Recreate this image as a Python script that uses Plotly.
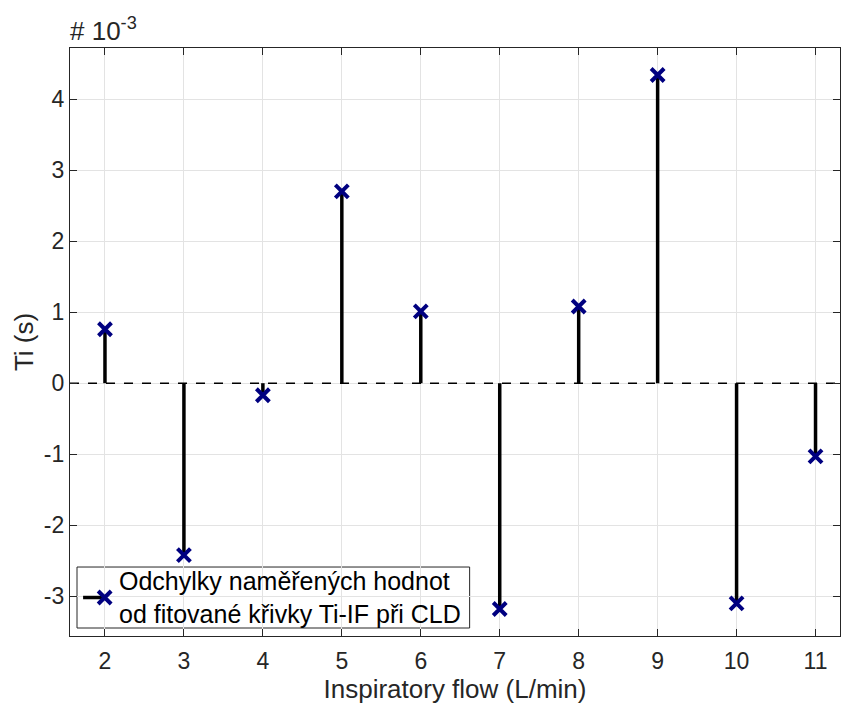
import plotly.graph_objects as go

flow = [2, 3, 4, 5, 6, 7, 8, 9, 10, 11]
deviation_e3 = [0.76, -2.42, -0.17, 2.70, 1.01, -3.18, 1.08, 4.34, -3.10, -1.03]
legend_text = "Odchylky naměřených hodnot<br>od fitované křivky Ti-IF při CLD"
x_ticks = [2, 3, 4, 5, 6, 7, 8, 9, 10, 11]
y_ticks = [-3, -2, -1, 0, 1, 2, 3, 4]

xr = [1.557, 11.31]
yr = [-3.56, 4.72]

stem_x, stem_y = [], []
for xv, yv in zip(flow, deviation_e3):
    stem_x += [xv, xv, None]
    stem_y += [0, yv, None]

font = "Liberation Sans, Arial, sans-serif"
navy = "#000080"
mk = dict(symbol="x-thin", size=13, color=navy, line=dict(color=navy, width=4))

fig = go.Figure()
fig.add_trace(go.Scatter(x=xr, y=[0, 0], mode="lines",
                         line=dict(color="black", width=1.5, dash="dash"),
                         showlegend=False, hoverinfo="skip"))
fig.add_trace(go.Scatter(x=stem_x, y=stem_y, mode="lines",
                         line=dict(color="black", width=3.5), showlegend=False))
fig.add_trace(go.Scatter(x=flow, y=deviation_e3, mode="markers",
                         marker=mk, showlegend=False))

# legend box (manual, on an overlay axis spanning the plot area 0..1)
lg_x0, lg_x1, lg_y0, lg_y1 = 0.0091, 0.519, 0.0136, 0.1173
lg_cy = (lg_y0 + lg_y1) / 2
fig.add_shape(type="rect", xref="paper", yref="paper", x0=lg_x0, x1=lg_x1, y0=lg_y0, y1=lg_y1,
              line=dict(color="#262626", width=1), fillcolor="white", layer="between")
fig.add_trace(go.Scatter(x=[0.017, 0.044], y=[lg_cy, lg_cy], mode="lines",
                         line=dict(color="black", width=3.5),
                         xaxis="x2", yaxis="y2", showlegend=False, hoverinfo="skip"))
fig.add_trace(go.Scatter(x=[0.045], y=[lg_cy], mode="markers", marker=mk,
                         xaxis="x2", yaxis="y2", showlegend=False, hoverinfo="skip"))

axcommon = dict(showgrid=True, gridcolor="#e3e3e3", gridwidth=1,
                ticks="inside", ticklen=7, tickcolor="#262626",
                showline=True, linecolor="#262626", linewidth=1.2,
                mirror="ticks", zeroline=False,
                tickfont=dict(family=font, size=23, color="#262626"))

fig.update_layout(
    width=841, height=705,
    margin=dict(l=70, r=1, t=48, b=69),
    paper_bgcolor="white", plot_bgcolor="white",
    font=dict(family=font, color="#262626"),
    showlegend=False,
    xaxis=dict(range=xr, tickvals=x_ticks, ticktext=[str(v) for v in x_ticks],
               ticklabelstandoff=4,
               title=dict(text="Inspiratory flow (L/min)", font=dict(size=26, color="#262626"), standoff=5),
               **axcommon),
    yaxis=dict(range=yr, tickvals=y_ticks, ticktext=[str(v) for v in y_ticks],
               title=dict(text="Ti (s)", font=dict(size=26, color="#262626"), standoff=2),
               **axcommon),
    xaxis2=dict(range=[0, 1], overlaying="x", visible=False, fixedrange=True),
    yaxis2=dict(range=[0, 1], overlaying="y", visible=False, fixedrange=True),
    annotations=[
        dict(text="# 10<sup>-3</sup>", xref="paper", yref="paper",
             x=-0.003, y=1, xanchor="left", yanchor="bottom", yshift=0,
             showarrow=False, font=dict(family=font, size=26, color="#262626")),
        dict(text=legend_text, xref="paper", yref="paper", x=0.061, y=lg_cy,
             xanchor="left", yanchor="middle", align="left", showarrow=False,
             font=dict(family=font, size=25, color="black")),
    ],
)

fig.write_html("out.html")
